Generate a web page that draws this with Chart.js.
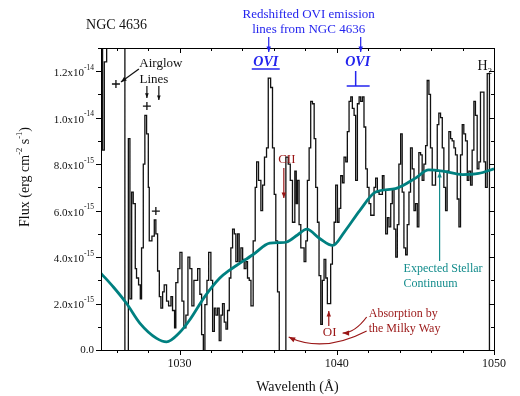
<!DOCTYPE html>
<html lang="en">
<head>
<meta charset="UTF-8">
<title>NGC 4636 - OVI region</title>
<script src="https://cdn.jsdelivr.net/npm/chart.js"></script>
<style>
  html, body { margin: 0; padding: 0; background: #fff; }
</style>
</head>
<body>
<canvas id="spec" width="520" height="396"></canvas>
<script>
// spectrum: left edge of each bin (Å) and flux in units of 1e-15 erg cm^-2 s^-1
const specWave = [
  1025.00, 1025.10, 1025.21, 1025.36, 1025.95, 1026.52, 1026.74, 1026.84, 1026.95, 1027.05,
  1027.18, 1027.26, 1027.39, 1027.50, 1027.58, 1027.69, 1027.79, 1027.90, 1028.01, 1028.07,
  1028.24, 1028.39, 1028.49, 1028.60, 1028.71, 1028.81, 1028.92, 1029.02, 1029.17, 1029.30,
  1029.45, 1029.55, 1029.68, 1029.76, 1029.89, 1030.02, 1030.15, 1030.27, 1030.40, 1030.53,
  1030.65, 1030.78, 1030.91, 1031.15, 1031.29, 1031.40, 1031.51, 1031.61, 1031.74, 1031.85,
  1031.99, 1032.10, 1032.21, 1032.31, 1032.42, 1032.52, 1032.63, 1032.73, 1032.84, 1032.95,
  1033.05, 1033.16, 1033.26, 1033.37, 1033.48, 1033.58, 1033.69, 1033.79, 1033.90, 1034.01,
  1034.11, 1034.22, 1034.32, 1034.43, 1034.54, 1034.68, 1034.81, 1034.90, 1035.02, 1035.17,
  1035.28, 1035.40, 1035.53, 1035.64, 1035.79, 1035.91, 1036.02, 1036.12, 1036.23, 1036.34,
  1036.76, 1036.91, 1037.04, 1037.18, 1037.33, 1037.42, 1037.50, 1037.60, 1037.71, 1037.92,
  1038.03, 1038.13, 1038.24, 1038.34, 1038.45, 1038.56, 1038.66, 1038.77, 1038.87, 1038.98,
  1039.08, 1039.19, 1039.30, 1039.40, 1039.61, 1039.72, 1039.83, 1039.93, 1040.04, 1040.14,
  1040.25, 1040.36, 1040.46, 1040.57, 1040.67, 1040.78, 1040.89, 1040.99, 1041.10, 1041.20,
  1041.31, 1041.42, 1041.52, 1041.63, 1041.73, 1041.84, 1041.94, 1042.05, 1042.16, 1042.37,
  1042.47, 1042.58, 1042.69, 1042.90, 1043.00, 1043.11, 1043.22, 1043.32, 1043.43, 1043.53,
  1043.64, 1043.75, 1043.85, 1043.95, 1044.06, 1044.16, 1044.27, 1044.38, 1044.48, 1044.59,
  1044.69, 1044.80, 1044.91, 1045.01, 1045.12, 1045.22, 1045.33, 1045.43, 1045.54, 1045.65,
  1045.75, 1045.86, 1045.96, 1046.07, 1046.28, 1046.39, 1046.49, 1046.60, 1046.71, 1046.81,
  1046.92, 1047.02, 1047.13, 1047.24, 1047.34, 1047.45, 1047.55, 1047.66, 1047.77, 1047.87,
  1047.98, 1048.08, 1048.19, 1048.30, 1048.40, 1048.51, 1048.61, 1048.72, 1048.82, 1048.93,
  1049.04, 1049.14, 1049.36, 1049.46, 1049.57, 1049.71, 1050.00
];
const specFlux = [
  18.0, 8.6, 12.4, 17.0, 15.0, -0.5, 9.1, 2.2, 6.8, 6.3,
  3.5, 3.1, 2.8, 2.2, 4.4, 8.0, 10.1, 9.3, 7.0, 4.7,
  4.9, 5.6, 5.0, 3.4, 2.3, 1.8, 2.5, 2.8, 2.1, 1.9,
  2.3, 1.7, 0.95, 2.9, 3.5, 4.2, 2.1, 0.95, 1.5, 4.0,
  3.5, 1.9, 3.0, 3.5, 2.4, 0.66, -0.1, 1.95, 3.0, 4.2,
  3.0, 0.8, 1.8, 1.5, 1.8, 0.4, 1.5, 2.0, 1.2, 0.9,
  1.7, 3.1, 4.4, 5.2, 5.0, 3.8, 5.0, 3.8, 4.4, 3.9,
  3.5, 3.8, 3.1, 3.0, 1.9, 4.7, 7.0, 8.1, 7.3, 6.0,
  7.1, 8.3, 8.7, 11.7, 11.3, 8.7, 6.7, 4.7, 2.5, -0.3,
  8.3, 8.0, 7.3, 5.5, 7.7, 6.3, 7.3, 5.4, 4.4, 3.8,
  4.7, 7.3, 8.7, 10.7, 10.6, 9.1, 7.0, 5.5, 3.2, 1.1,
  3.0, 3.9, 3.1, 2.0, 3.7, 4.5, 5.5, 7.1, 5.5, 6.1,
  7.5, 7.2, 8.3, 8.1, 9.4, 10.7, 10.9, 10.4, 10.1, 7.3,
  10.6, 10.9, 10.7, 10.9, 9.6, 7.8, 7.0, 6.3, 5.8, 7.0,
  7.4, 6.8, 6.7, 7.5, 6.9, 5.0, 5.7, 5.3, 6.3, 6.9,
  5.2, 4.0, 5.4, 8.0, 9.3, 6.8, 4.4, 4.1, 5.4, 6.8,
  8.7, 7.8, 6.0, 6.3, 5.3, 8.5, 8.4, 7.3, 8.0, 8.8,
  11.6, 11.0, 8.7, 7.1, 7.7, 9.7, 10.2, 10.0, 8.7, 7.0,
  6.0, 7.7, 9.4, 9.1, 9.0, 8.7, 8.4, 6.5, 5.3, 8.4,
  9.7, 9.3, 9.0, 7.3, 7.7, 7.1, 8.6, 10.7, 10.1, 7.8,
  8.1, 11.1, 8.1, 7.0, 11.9, -0.3, -0.3
];

// expected stellar continuum (same units)
const contWave = [
  1025.0, 1025.8, 1026.63, 1027.48, 1028.54, 1029.17, 1030.0, 1030.65, 1031.6, 1032.56,
  1033.2, 1033.64, 1034.66, 1035.74, 1036.37, 1036.82, 1037.5, 1038.09, 1038.91, 1039.74,
  1040.5, 1041.46, 1042.47, 1043.74, 1045.01, 1045.84, 1046.73, 1048.0, 1049.02, 1050.0
];
const contFlux = [
  3.3, 2.7, 2.0, 1.15, 0.5, 0.35, 0.75, 1.3, 2.3, 3.1,
  3.45, 3.65, 4.1, 4.6, 4.62, 4.65, 4.95, 5.2, 4.8, 4.5,
  5.1, 6.0, 6.8, 6.95, 7.4, 7.75, 7.7, 7.55, 7.6, 7.8
];

// axis ticks
const xTicks = [1026, 1028, 1030, 1032, 1034, 1036, 1038, 1040, 1042, 1044, 1046, 1048, 1050];
const xLabels = [1030, 1040, 1050];
const yTicks = [0, 1, 2, 3, 4, 5, 6, 7, 8, 9, 10, 11, 12, 13];
const yLabelVals = [0, 2, 4, 6, 8, 10, 12];
const yLabelText = ['0.0', '2.0x10', '4.0x10', '6.0x10', '8.0x10', '1.0x10', '1.2x10'];
const yLabelExp = ['', '-15', '-15', '-15', '-15', '-14', '-14'];

const serif = '"Liberation Serif", "DejaVu Serif", serif';
const BLUE = '#2424ee';
const RED = '#9a1616';
const TEAL = '#138c8c';

function arrowHead(ctx, x1, y1, x2, y2, size) {
  const ang = Math.atan2(y2 - y1, x2 - x1);
  ctx.beginPath();
  ctx.moveTo(x2, y2);
  ctx.lineTo(x2 - size * Math.cos(ang - 0.38), y2 - size * Math.sin(ang - 0.38));
  ctx.lineTo(x2 - size * Math.cos(ang + 0.38), y2 - size * Math.sin(ang + 0.38));
  ctx.closePath();
  ctx.fill();
}

function arrow(ctx, x1, y1, x2, y2, color, size) {
  ctx.strokeStyle = color; ctx.fillStyle = color; ctx.lineWidth = 1.2;
  ctx.beginPath(); ctx.moveTo(x1, y1); ctx.lineTo(x2, y2); ctx.stroke();
  arrowHead(ctx, x1, y1, x2, y2, size || 6);
}

function curveArrow(ctx, x1, y1, cx, cy, x2, y2, color) {
  ctx.strokeStyle = color; ctx.fillStyle = color; ctx.lineWidth = 1.2;
  ctx.beginPath(); ctx.moveTo(x1, y1); ctx.quadraticCurveTo(cx, cy, x2, y2); ctx.stroke();
  arrowHead(ctx, cx, cy, x2, y2, 7);
}

const decor = {
  id: 'decor',
  afterDraw(chart) {
    const { ctx, chartArea: a, scales: { x, y } } = chart;
    const X = v => x.getPixelForValue(v);
    const Y = v => y.getPixelForValue(v);
    ctx.save();

    // frame and ticks
    ctx.strokeStyle = '#000'; ctx.lineWidth = 1;
    ctx.strokeRect(Math.round(a.left) + 0.5, Math.round(a.top) + 0.5,
      Math.round(a.right - a.left), Math.round(a.bottom - a.top));
    ctx.beginPath();
    xTicks.forEach(v => {
      const px = Math.round(X(v)) + 0.5;
      const len = xLabels.includes(v) ? 5 : 3;
      ctx.moveTo(px, a.bottom); ctx.lineTo(px, a.bottom + len);
      ctx.moveTo(px, a.top); ctx.lineTo(px, a.top + len);
    });
    yTicks.forEach(v => {
      const py = Math.round(Y(v)) + 0.5;
      const len = yLabelVals.includes(v) ? 5 : 3;
      ctx.moveTo(a.left - len, py); ctx.lineTo(a.left, py);
      ctx.moveTo(a.right - len, py); ctx.lineTo(a.right, py);
    });
    ctx.stroke();

    // y tick labels with superscript exponents
    ctx.fillStyle = '#111'; ctx.textAlign = 'right'; ctx.textBaseline = 'middle';
    yLabelVals.forEach((v, i) => {
      const py = Y(v);
      let xe = a.left - 7;
      if (yLabelExp[i]) {
        ctx.font = '7.5px ' + serif;
        ctx.fillText(yLabelExp[i], xe, py - 3.5);
        xe -= ctx.measureText(yLabelExp[i]).width;
        ctx.font = '11px ' + serif;
        ctx.fillText(yLabelText[i], xe, py + 2);
      } else {
        ctx.font = '11px ' + serif;
        ctx.fillText(yLabelText[i], xe, py);
      }
    });

    // y axis title
    ctx.save();
    ctx.translate(25, (a.top + a.bottom) / 2 - 22);
    ctx.rotate(-Math.PI / 2);
    const parts = [['Flux (erg cm', 0], ['-2', 1], [' s', 0], ['-1', 1], [')', 0]];
    let w = 0;
    parts.forEach(p => { ctx.font = (p[1] ? '8.5px ' : '14px ') + serif; w += ctx.measureText(p[0]).width; });
    let cx = -w / 2;
    ctx.textAlign = 'left'; ctx.fillStyle = '#111';
    parts.forEach(p => {
      ctx.font = (p[1] ? '8.5px ' : '14px ') + serif;
      ctx.fillText(p[0], cx, p[1] ? -5 : 0);
      cx += ctx.measureText(p[0]).width;
    });
    ctx.restore();

    // title
    ctx.textAlign = 'left'; ctx.textBaseline = 'middle'; ctx.fillStyle = '#111';
    ctx.font = '14px ' + serif;
    ctx.fillText('NGC 4636', X(1024.05), Y(13.99));

    // OVI annotation
    ctx.fillStyle = BLUE; ctx.textAlign = 'center';
    ctx.font = '13px ' + serif;
    ctx.fillText('Redshifted OVI emission', X(1038.21), Y(14.46));
    ctx.fillText('lines from NGC 4636', X(1038.21), Y(13.78));
    arrow(ctx, X(1035.67), Y(13.47), X(1035.67), Y(12.83), BLUE, 6);
    arrow(ctx, X(1041.52), Y(13.47), X(1041.52), Y(12.83), BLUE, 6);
    ctx.fillStyle = BLUE;
    ctx.font = 'italic bold 14px ' + serif;
    ctx.fillText('OVI', X(1035.48), Y(12.4));
    ctx.fillText('OVI', X(1041.33), Y(12.4));
    ctx.strokeStyle = BLUE; ctx.lineWidth = 1.5;
    ctx.beginPath();
    ctx.moveTo(X(1034.59), Y(12.1)); ctx.lineTo(X(1036.37), Y(12.1));
    ctx.moveTo(X(1041.2), Y(12.01)); ctx.lineTo(X(1041.2), Y(11.36));
    ctx.moveTo(X(1040.63), Y(11.36)); ctx.lineTo(X(1042.09), Y(11.36));
    ctx.stroke();

    // H2
    ctx.fillStyle = '#111'; ctx.textAlign = 'left';
    ctx.font = '14px ' + serif;
    ctx.fillText('H', X(1048.95), Y(12.23));
    ctx.font = '9px ' + serif;
    ctx.fillText('2', X(1048.95) + 10, Y(12.23) + 6);

    // airglow
    ctx.font = '13px ' + serif; ctx.textAlign = 'center';
    ctx.fillText('Airglow', X(1028.81), Y(12.35));
    ctx.fillText('Lines', X(1028.37), Y(11.62));
    arrow(ctx, X(1027.41), Y(12.10), X(1026.27), Y(11.54), '#111', 6);
    arrow(ctx, X(1027.92), Y(11.36), X(1027.92), Y(10.85), '#111', 5);
    arrow(ctx, X(1028.68), Y(11.36), X(1028.68), Y(10.76), '#111', 5);
    ctx.strokeStyle = '#111'; ctx.lineWidth = 1.3;
    ctx.beginPath();
    [[1025.95, 11.45], [1027.92, 10.5], [1028.49, 5.98]].forEach(p => {
      const px = X(p[0]), py = Y(p[1]);
      ctx.moveTo(px - 4, py); ctx.lineTo(px + 4, py);
      ctx.moveTo(px, py - 4); ctx.lineTo(px, py + 4);
    });
    ctx.stroke();

    // CII and OI absorption
    ctx.fillStyle = RED; ctx.font = '13px ' + serif; ctx.textAlign = 'center';
    ctx.fillText('CII', X(1036.82), Y(8.18));
    arrow(ctx, X(1036.63), Y(7.83), X(1036.63), Y(6.54), RED, 6);
    ctx.fillStyle = RED;
    ctx.fillText('OI', X(1039.55), Y(0.73));
    arrow(ctx, X(1039.49), Y(1.03), X(1039.49), Y(1.68), RED, 6);
    ctx.fillStyle = RED; ctx.textAlign = 'left'; ctx.font = '12px ' + serif;
    ctx.fillText('Absorption by', X(1042.03), Y(1.55));
    ctx.fillText('the Milky Way', X(1042.03), Y(0.9));
    curveArrow(ctx, X(1041.9), Y(1.42), X(1041.14), Y(0.73), X(1040.37), Y(0.73), RED);
    curveArrow(ctx, X(1041.9), Y(0.82), X(1039.14), Y(-0.15), X(1036.94), Y(0.56), RED);

    // continuum label
    ctx.fillStyle = TEAL; ctx.textAlign = 'left'; ctx.font = '12px ' + serif;
    ctx.fillText('Expected Stellar', X(1044.25), Y(3.49));
    ctx.fillText('Continuum', X(1044.25), Y(2.84));
    arrow(ctx, X(1046.54), Y(3.83), X(1046.54), Y(7.66), TEAL, 6);

    ctx.restore();
  }
};

new Chart(document.getElementById('spec'), {
  type: 'line',
  data: {
    datasets: [
      {
        label: 'Expected stellar continuum',
        data: contWave.map((w, i) => ({ x: w, y: contFlux[i] })),
        borderColor: 'rgb(0,128,128)',
        borderWidth: 2.8,
        pointRadius: 0,
        cubicInterpolationMode: 'monotone',
        fill: false
      },
      {
        label: 'NGC 4636',
        data: specWave.map((w, i) => ({ x: w, y: specFlux[i] })),
        borderColor: '#111',
        borderWidth: 1.3,
        pointRadius: 0,
        stepped: 'before',
        fill: false
      }
    ]
  },
  options: {
    responsive: false,
    animation: false,
    layout: { padding: { top: 48, right: 26, left: 0, bottom: 0 } },
    plugins: { legend: { display: false }, tooltip: { enabled: false } },
    scales: {
      x: {
        type: 'linear',
        min: 1025,
        max: 1050,
        afterBuildTicks: s => { s.ticks = xTicks.map(v => ({ value: v })); },
        afterFit: s => { s.height = 46; },
        grid: { display: false, drawTicks: false },
        border: { display: false },
        ticks: {
          autoSkip: false,
          maxRotation: 0,
          padding: 7,
          color: '#111',
          font: { family: 'Liberation Serif', size: 12 },
          callback: v => (xLabels.includes(v) ? String(v) : '')
        },
        title: {
          display: true,
          text: 'Wavelenth (Å)',
          color: '#111',
          font: { family: 'Liberation Serif', size: 14 },
          padding: { top: 0, bottom: 0 }
        }
      },
      y: {
        min: 0,
        max: 13,
        afterFit: s => { s.width = 101; },
        grid: { display: false },
        border: { display: false },
        ticks: { display: false }
      }
    }
  },
  plugins: [decor]
});
</script>
</body>
</html>
